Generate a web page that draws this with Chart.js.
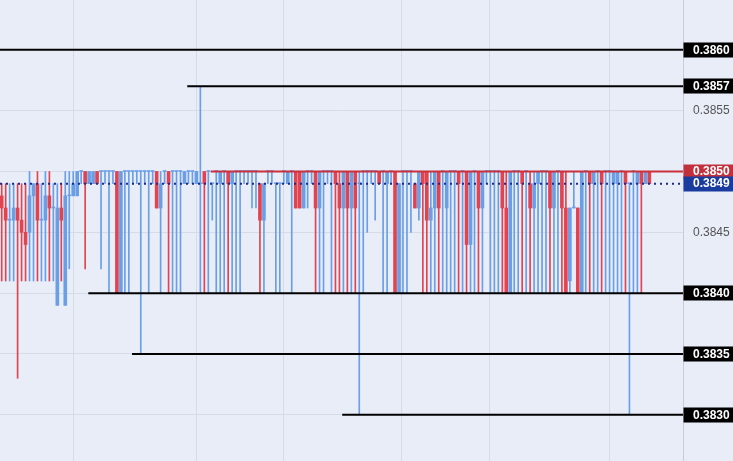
<!DOCTYPE html>
<html>
<head>
<meta charset="utf-8">
<script src="https://cdn.jsdelivr.net/npm/chart.js@4.4.1/dist/chart.umd.min.js"></script>
<style>
  html, body { margin: 0; padding: 0; background: #e9edf8; }
  #wrap { width: 733px; height: 461px; }
</style>
</head>
<body>
<div id="wrap"><canvas id="chart" width="733" height="461"></canvas></div>
<script>
'use strict';
/* global Chart */

// ── Candles (oldest first) ──────────────────────────────────
const opens = [
  0.3848, 0.3847, 0.3846, 0.3846, 0.3847, 0.3846, 0.3845, 0.3845, 0.3848, 0.3849,
  0.3846, 0.3846, 0.3848, 0.3847, 0.3839, 0.3847, 0.3839, 0.3848, 0.3848, 0.3848,
  0.3850, 0.3850, 0.3849, 0.3849, 0.3850, 0.3850, 0.3850, 0.3850, 0.3850, 0.3850,
  0.3840, 0.3850, 0.3850, 0.3850, 0.3850, 0.3850, 0.3850, 0.3850, 0.3850, 0.3850,
  0.3847, 0.3850, 0.3850, 0.3850, 0.3850, 0.3850, 0.3849, 0.3850, 0.3850, 0.3849,
  0.3849, 0.3850, 0.3850, 0.3849, 0.3850, 0.3849, 0.3850, 0.3850, 0.3849, 0.3850,
  0.3850, 0.3850, 0.3850, 0.3850, 0.3850, 0.3849, 0.3846, 0.3850, 0.3850, 0.3849,
  0.3849, 0.3850, 0.3849, 0.3850, 0.3850, 0.3850, 0.3847, 0.3850, 0.3850, 0.3850,
  0.3847, 0.3850, 0.3850, 0.3850, 0.3850, 0.3849, 0.3847, 0.3850, 0.3847, 0.3850,
  0.3849, 0.3850, 0.3850, 0.3850, 0.3850, 0.3850, 0.3850, 0.3849, 0.3850, 0.3850,
  0.3840, 0.3850, 0.3850, 0.3850, 0.3849, 0.3847, 0.3850, 0.3850, 0.3846, 0.3847,
  0.3850, 0.3850, 0.3847, 0.3850, 0.3850, 0.3850, 0.3850, 0.3850, 0.3844, 0.3850,
  0.3850, 0.3847, 0.3850, 0.3850, 0.3850, 0.3850, 0.3850, 0.3847, 0.3840, 0.3850,
  0.3850, 0.3850, 0.3850, 0.3849, 0.3847, 0.3849, 0.3850, 0.3850, 0.3850, 0.3847,
  0.3850, 0.3850, 0.3847, 0.3841, 0.3847, 0.3847, 0.3840, 0.3850, 0.3850, 0.3849,
  0.3850, 0.3850, 0.3850, 0.3850, 0.3849, 0.3849, 0.3850, 0.3850, 0.3849, 0.3850,
  0.3849, 0.3850, 0.3849, 0.3850
];
const highs = [
  0.3849, 0.3849, 0.3849, 0.3849, 0.3849, 0.3849, 0.3849, 0.3850, 0.3849, 0.3850,
  0.3849, 0.3850, 0.3850, 0.3849, 0.3849, 0.3849, 0.3850, 0.3850, 0.3850, 0.3850,
  0.3850, 0.3850, 0.3850, 0.3850, 0.3850, 0.3850, 0.3850, 0.3850, 0.3850, 0.3850,
  0.3850, 0.3850, 0.3850, 0.3850, 0.3850, 0.3850, 0.3850, 0.3850, 0.3850, 0.3850,
  0.3850, 0.3850, 0.3850, 0.3850, 0.3850, 0.3850, 0.3850, 0.3850, 0.3850, 0.3850,
  0.3857, 0.3850, 0.3850, 0.3849, 0.3850, 0.3850, 0.3850, 0.3850, 0.3850, 0.3850,
  0.3850, 0.3850, 0.3850, 0.3850, 0.3850, 0.3849, 0.3849, 0.3850, 0.3850, 0.3849,
  0.3849, 0.3850, 0.3850, 0.3850, 0.3850, 0.3850, 0.3850, 0.3850, 0.3850, 0.3850,
  0.3850, 0.3850, 0.3850, 0.3850, 0.3850, 0.3850, 0.3850, 0.3850, 0.3850, 0.3850,
  0.3850, 0.3850, 0.3850, 0.3850, 0.3850, 0.3850, 0.3850, 0.3850, 0.3850, 0.3850,
  0.3849, 0.3850, 0.3850, 0.3850, 0.3849, 0.3850, 0.3850, 0.3850, 0.3850, 0.3850,
  0.3850, 0.3850, 0.3850, 0.3850, 0.3850, 0.3850, 0.3850, 0.3850, 0.3850, 0.3850,
  0.3850, 0.3850, 0.3850, 0.3850, 0.3850, 0.3850, 0.3850, 0.3850, 0.3850, 0.3850,
  0.3850, 0.3850, 0.3850, 0.3850, 0.3850, 0.3850, 0.3850, 0.3850, 0.3850, 0.3850,
  0.3850, 0.3850, 0.3850, 0.3847, 0.3850, 0.3847, 0.3850, 0.3850, 0.3850, 0.3850,
  0.3850, 0.3850, 0.3850, 0.3850, 0.3850, 0.3850, 0.3850, 0.3850, 0.3849, 0.3850,
  0.3850, 0.3850, 0.3850, 0.3850
];
const lows = [
  0.3841, 0.3841, 0.3841, 0.3841, 0.3833, 0.3841, 0.3841, 0.3841, 0.3841, 0.3841,
  0.3841, 0.3841, 0.3841, 0.3841, 0.3839, 0.3841, 0.3839, 0.3842, 0.3848, 0.3848,
  0.3849, 0.3842, 0.3849, 0.3849, 0.3849, 0.3842, 0.3849, 0.3840, 0.3849, 0.3840,
  0.3840, 0.3840, 0.3840, 0.3849, 0.3849, 0.3835, 0.3849, 0.3840, 0.3849, 0.3847,
  0.3840, 0.3849, 0.3840, 0.3840, 0.3840, 0.3840, 0.3849, 0.3849, 0.3849, 0.3849,
  0.3840, 0.3840, 0.3840, 0.3846, 0.3840, 0.3840, 0.3840, 0.3840, 0.3840, 0.3840,
  0.3840, 0.3849, 0.3849, 0.3847, 0.3847, 0.3840, 0.3840, 0.3849, 0.3849, 0.3840,
  0.3840, 0.3849, 0.3849, 0.3840, 0.3847, 0.3847, 0.3847, 0.3847, 0.3849, 0.3840,
  0.3840, 0.3840, 0.3849, 0.3840, 0.3840, 0.3840, 0.3840, 0.3840, 0.3840, 0.3840,
  0.3830, 0.3840, 0.3845, 0.3849, 0.3846, 0.3849, 0.3840, 0.3840, 0.3849, 0.3840,
  0.3840, 0.3840, 0.3840, 0.3845, 0.3847, 0.3846, 0.3840, 0.3840, 0.3840, 0.3840,
  0.3840, 0.3840, 0.3840, 0.3840, 0.3840, 0.3840, 0.3840, 0.3840, 0.3840, 0.3840,
  0.3840, 0.3840, 0.3849, 0.3840, 0.3840, 0.3840, 0.3840, 0.3840, 0.3840, 0.3840,
  0.3840, 0.3840, 0.3840, 0.3840, 0.3840, 0.3840, 0.3840, 0.3840, 0.3840, 0.3840,
  0.3840, 0.3840, 0.3840, 0.3840, 0.3847, 0.3840, 0.3840, 0.3840, 0.3840, 0.3840,
  0.3840, 0.3840, 0.3840, 0.3840, 0.3840, 0.3840, 0.3840, 0.3840, 0.3830, 0.3840,
  0.3840, 0.3840, 0.3849, 0.3849
];
const closes = [
  0.3847, 0.3846, 0.3846, 0.3847, 0.3846, 0.3845, 0.3844, 0.3848, 0.3849, 0.3846,
  0.3846, 0.3848, 0.3847, 0.3847, 0.3847, 0.3846, 0.3848, 0.3848, 0.3849, 0.3850,
  0.3850, 0.3849, 0.3850, 0.3850, 0.3849, 0.3850, 0.3850, 0.3850, 0.3850, 0.3840,
  0.3850, 0.3850, 0.3850, 0.3850, 0.3850, 0.3850, 0.3850, 0.3850, 0.3850, 0.3847,
  0.3849, 0.3850, 0.3849, 0.3850, 0.3850, 0.3850, 0.3850, 0.3850, 0.3850, 0.3850,
  0.3849, 0.3849, 0.3850, 0.3849, 0.3850, 0.3850, 0.3850, 0.3849, 0.3850, 0.3850,
  0.3850, 0.3850, 0.3850, 0.3850, 0.3850, 0.3846, 0.3849, 0.3850, 0.3850, 0.3849,
  0.3849, 0.3850, 0.3850, 0.3850, 0.3847, 0.3847, 0.3850, 0.3850, 0.3850, 0.3847,
  0.3850, 0.3850, 0.3850, 0.3850, 0.3849, 0.3847, 0.3850, 0.3847, 0.3850, 0.3847,
  0.3849, 0.3850, 0.3850, 0.3850, 0.3850, 0.3849, 0.3850, 0.3850, 0.3850, 0.3840,
  0.3849, 0.3850, 0.3850, 0.3850, 0.3847, 0.3850, 0.3849, 0.3846, 0.3847, 0.3850,
  0.3847, 0.3850, 0.3850, 0.3850, 0.3850, 0.3849, 0.3850, 0.3844, 0.3850, 0.3850,
  0.3847, 0.3850, 0.3850, 0.3850, 0.3850, 0.3850, 0.3847, 0.3840, 0.3850, 0.3850,
  0.3850, 0.3849, 0.3850, 0.3847, 0.3849, 0.3850, 0.3850, 0.3850, 0.3847, 0.3850,
  0.3850, 0.3847, 0.3840, 0.3847, 0.3847, 0.3840, 0.3850, 0.3850, 0.3849, 0.3850,
  0.3850, 0.3849, 0.3850, 0.3850, 0.3850, 0.3850, 0.3850, 0.3849, 0.3849, 0.3850,
  0.3850, 0.3849, 0.3850, 0.3849
];

// ── Drawn levels (price, first candle the line starts at; null = full width) ──
const levelValues = [0.3860, 0.3857, 0.3850, 0.3849, 0.3840, 0.3835, 0.3830];
const levelFrom   = [null,   46.7,   52.6,   null,   21.8,   32.8,   85.7];

// ── Axis ticks ──────────────────────────────────────────────
const priceTicks = [0.3830, 0.3835, 0.3840, 0.3845, 0.3850, 0.3855, 0.3860];
const timeTicks  = [18.0, 49.1, 70.9, 100.7, 122.9, 153.1];  // session grid, in candle units

// visible window, in candle units / price
const X_MIN = -0.43, X_MAX = 171.48;
const Y_MIN = 0.38262, Y_MAX = 0.38641;

// styles
const UP = '#6a9fe6', DOWN = '#e2434f';
const levelColors = ['#000000', '#000000', '#c9313d', '#1c2a8c', '#000000', '#000000', '#000000'];
const levelDash   = [[], [], [], [2, 4], [], [], []];
const labelBg     = ['#000000', '#000000', '#c2303c', '#1a3c9e', '#000000', '#000000', '#000000'];
const GRID = '#d6dbe8';
const FONT = '"Liberation Sans", Arial, sans-serif';

const candleColors = opens.map((o, i) => closes[i] >= o ? UP : DOWN);

const wickData = lows.map((l, i) => ({ x: i, y: [l, highs[i]] }));
const bodyData = opens.map((o, i) => ({ x: i, y: [o, closes[i]] }));

const levelSets = levelValues.map((v, k) => ({
  type: 'line',
  data: [{ x: levelFrom[k] == null ? X_MIN : levelFrom[k], y: v }, { x: X_MAX, y: v }],
  borderColor: levelColors[k],
  borderWidth: 2,
  borderDash: levelDash[k],
  pointRadius: 0,
  order: 0,
}));

// right-hand price labels, boxed levels drawn over the plain ticks
const priceLabels = {
  id: 'priceLabels',
  afterDraw(chart) {
    const ctx = chart.ctx;
    const ys = chart.scales.y;
    const left = chart.chartArea.right;
    ctx.save();
    ctx.textBaseline = 'middle';
    ctx.font = '12px ' + FONT;
    ctx.fillStyle = '#555555';
    priceTicks.forEach(v => ctx.fillText(v.toFixed(4), left + 10, ys.getPixelForValue(v)));
    levelValues.forEach((v, k) => {
      const py = ys.getPixelForValue(v);
      ctx.fillStyle = labelBg[k];
      ctx.fillRect(left + 0.5, Math.round(py) - 7.5, chart.width - left, 15);
      ctx.fillStyle = '#ffffff';
      ctx.font = 'bold 12px ' + FONT;
      ctx.fillText(v.toFixed(4), left + 10, py + 0.5);
    });
    ctx.restore();
  }
};

new Chart(document.getElementById('chart').getContext('2d'), {
  type: 'bar',
  data: {
    datasets: [
      ...levelSets,
      {
        data: bodyData,
        backgroundColor: candleColors,
        barThickness: 3,
        minBarLength: 1,
        grouped: false,
        order: 1,
      },
      {
        data: wickData,
        backgroundColor: candleColors,
        barThickness: 1,
        grouped: false,
        order: 2,
      }
    ]
  },
  options: {
    responsive: false,
    animation: false,
    layout: { padding: 0 },
    plugins: { legend: { display: false }, tooltip: { enabled: false } },
    scales: {
      x: {
        type: 'linear',
        min: X_MIN,
        max: X_MAX,
        offset: false,
        afterBuildTicks: s => { s.ticks = timeTicks.map(v => ({ value: v })); },
        ticks: { display: false },
        grid: { color: GRID, drawTicks: false, offset: false },
        border: { display: false },
      },
      y: {
        position: 'right',
        min: Y_MIN,
        max: Y_MAX,
        afterBuildTicks: s => { s.ticks = priceTicks.map(v => ({ value: v })); },
        afterFit: s => { s.width = 50; },
        ticks: { display: false },
        grid: { color: GRID, drawTicks: false },
        border: { display: true, color: '#c6cbd8' },
      }
    }
  },
  plugins: [priceLabels]
});
</script>
</body>
</html>
